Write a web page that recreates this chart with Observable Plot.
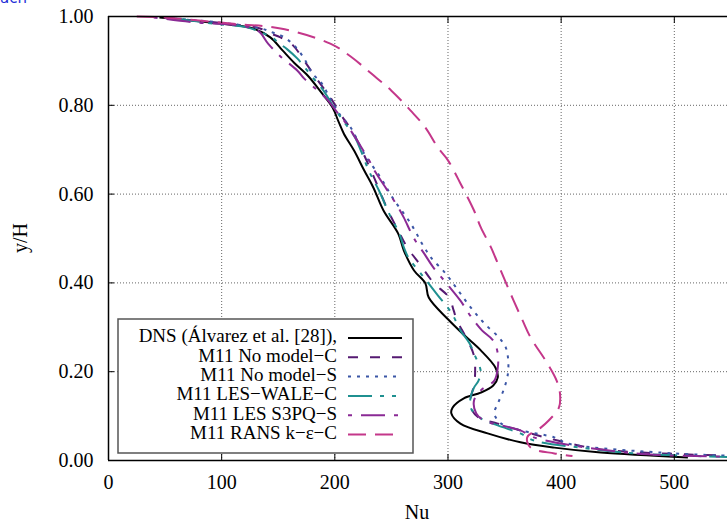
<!DOCTYPE html>
<html>
<head>
<meta charset="utf-8">
<script src="https://cdn.jsdelivr.net/npm/d3@7"></script>
<script src="https://cdn.jsdelivr.net/npm/@observablehq/plot@0.6"></script>
<style>
  html, body { margin: 0; padding: 0; background: #fff; }
  #wrap { position: relative; width: 727px; height: 524px; overflow: hidden; }
  #corner { position: absolute; left: 0; top: -11px; color: #2430d8; font: 15px "DejaVu Sans", sans-serif; }
</style>
</head>
<body>
<div id="wrap"><div id="corner">ach</div></div>
<script>
// ---------- data (Nu, y/H) ----------
const seriesNames = [
  "DNS (Álvarez et al. [28]),",
  "M11 No model\u2212C",
  "M11 No model\u2212S",
  "M11 LES\u2212WALE\u2212C",
  "M11 LES S3PQ\u2212S",
  "M11 RANS k\u2212\u03b5\u2212C"
];
const xTicks = [0, 100, 200, 300, 400, 500];
const yTicks = [0, 0.2, 0.4, 0.6, 0.8, 1.0];

const dns = [[45,0.998],[99,0.984],[128,0.973],[143,0.953],[154,0.923],[164,0.896],[176,0.867],[188,0.829],[198,0.795],[203,0.765],[208,0.736],[217,0.698],[226,0.653],[234,0.615],[243,0.563],[256,0.511],[261,0.473],[270,0.428],[280,0.399],[283,0.367],[300,0.318],[314,0.283],[329,0.248],[342,0.209],[344,0.187],[340,0.169],[329,0.153],[314,0.14],[304,0.119],[303,0.106],[311,0.083],[335,0.061],[364,0.041],[394,0.029],[435,0.018],[512,0.007]];

const noModelC = [[50,0.997],[100,0.985],[134,0.973],[143,0.962],[152,0.953],[163,0.935],[173,0.9],[185,0.856],[196,0.818],[205,0.78],[216,0.739],[232,0.653],[247,0.563],[256,0.518],[264,0.48],[276,0.439],[287,0.401],[301,0.367],[305,0.338],[308,0.315],[316,0.277],[323,0.236],[324,0.2],[323,0.17],[320,0.14],[320,0.119],[327,0.097],[344,0.083],[373,0.061],[397,0.045],[435,0.025],[509,0.014],[547,0.011]];

const noModelS = [[50,0.997],[100,0.986],[135,0.973],[145,0.964],[154,0.955],[164,0.935],[173,0.905],[180,0.872],[188,0.851],[197,0.81],[205,0.777],[214,0.75],[226,0.691],[241,0.635],[251,0.592],[267,0.534],[279,0.48],[285,0.457],[298,0.421],[309,0.383],[320,0.345],[332,0.309],[345,0.277],[351,0.255],[353,0.232],[353,0.196],[349,0.158],[344,0.128],[341,0.106],[347,0.083],[364,0.068],[394,0.052],[406,0.038],[500,0.016],[547,0.011]];

const lesWale = [[60,0.995],[93,0.984],[123,0.975],[137,0.962],[146,0.95],[150,0.941],[158,0.926],[167,0.905],[179,0.867],[190,0.833],[198,0.8],[206,0.77],[218,0.727],[223,0.698],[230,0.653],[239,0.608],[248,0.556],[257,0.511],[261,0.48],[265,0.457],[276,0.421],[291,0.372],[303,0.333],[311,0.293],[319,0.264],[323,0.241],[329,0.2],[327,0.18],[323,0.164],[320,0.142],[320,0.119],[329,0.095],[344,0.079],[364,0.061],[376,0.045],[420,0.028],[465,0.016],[547,0.008]];

const lesS3pq = [[40,0.998],[79,0.986],[108,0.982],[132,0.968],[141,0.939],[152,0.91],[167,0.878],[173,0.86],[185,0.833],[194,0.811],[203,0.781],[208,0.766],[229,0.682],[236,0.649],[246,0.61],[256,0.57],[261,0.547],[270,0.5],[279,0.466],[287,0.435],[300,0.395],[311,0.36],[320,0.325],[330,0.293],[340,0.27],[344,0.241],[344,0.209],[341,0.18],[329,0.158],[323,0.135],[325,0.106],[332,0.09],[364,0.068],[376,0.052],[465,0.016],[547,0.009]];

const ransKe = [[25,1.0],[48,0.998],[108,0.984],[152,0.973],[196,0.939],[214,0.91],[232,0.872],[250,0.833],[267,0.788],[280,0.75],[291,0.705],[300,0.676],[311,0.624],[323,0.563],[329,0.525],[338,0.48],[344,0.444],[358,0.36],[366,0.315],[373,0.277],[388,0.218],[396,0.18],[399,0.15],[398,0.119],[389,0.09],[382,0.074],[370,0.052],[373,0.029],[394,0.016],[410,0.01]];

// ---------- styles ----------
const styles = [
  {data: dns,      stroke: "#000000", dash: null,              width: 2},
  {data: noModelC, stroke: "#551a72", dash: "10,12",           width: 2},
  {data: noModelS, stroke: "#3b56a6", dash: "3,6",             width: 2},
  {data: lesWale,  stroke: "#1f9090", dash: "24,8,4,8,4,8",    width: 2},
  {data: lesS3pq,  stroke: "#8a2a95", dash: "4,9,24,9",        width: 2},
  {data: ransKe,   stroke: "#c4378a", dash: "18,9",            width: 2}
];

const font = "'Liberation Serif', 'Times New Roman', serif";

const lineMarks = styles.map((s, i) =>
  Plot.line(s.data.map(([nu, y]) => ({nu, y})), {
    x: "nu", y: "y",
    stroke: s.stroke, strokeWidth: s.width,
    strokeDasharray: s.dash,
    curve: "catmull-rom",
    strokeLinecap: "butt"
  })
);

const chart = Plot.plot({
  width: 727,
  height: 524,
  marginLeft: 108,
  marginRight: 0,
  marginTop: 16,
  marginBottom: 64,
  style: {fontFamily: font, fontSize: "20px", background: "white", color: "black"},
  x: {domain: [0, 547]},
  y: {domain: [0, 1]},
  marks: [
    Plot.gridX(xTicks.filter(d => d > 0), {stroke: "#666", strokeOpacity: 1, strokeDasharray: "1,2", strokeWidth: 1}),
    Plot.gridY(yTicks.filter(d => d > 0 && d < 1), {stroke: "#666", strokeOpacity: 1, strokeDasharray: "1,2", strokeWidth: 1}),
    ...lineMarks,
    Plot.axisX(xTicks, {anchor: "bottom", tickSize: -6, tickPadding: 20, tickFormat: d3.format("d"), label: null, fontSize: 20}),
    Plot.axisX(xTicks, {anchor: "top", tickSize: -6, tickFormat: () => "", label: null}),
    Plot.axisY(yTicks, {anchor: "left", tickSize: -6, tickPadding: 21, tickFormat: d3.format(".2f"), label: null, fontSize: 20}),
    Plot.ruleY([0, 1], {stroke: "black", strokeWidth: 1.5}),
    Plot.ruleX([0], {stroke: "black", strokeWidth: 1.5})
  ]
});

document.getElementById("wrap").appendChild(chart);

// ---------- axis labels & legend ----------
const svg = d3.select(chart);
svg.append("text")
  .attr("x", 417).attr("y", 514)
  .attr("text-anchor", "middle").attr("dominant-baseline", "middle")
  .style("font-family", font).style("font-size", "20px")
  .text("Nu");
svg.append("text")
  .attr("transform", "translate(22,238) rotate(-90)")
  .attr("text-anchor", "middle").attr("dominant-baseline", "middle")
  .style("font-family", font).style("font-size", "20px")
  .text("y/H");

const lg = svg.append("g");
lg.append("rect")
  .attr("x", 118).attr("y", 319).attr("width", 295).attr("height", 134)
  .attr("fill", "white").attr("stroke", "#555").attr("stroke-width", 1.5);
seriesNames.forEach((name, i) => {
  const cy = 338 + i * 19.3;
  lg.append("text")
    .attr("x", 337).attr("y", cy)
    .attr("text-anchor", "end").attr("dominant-baseline", "middle")
    .style("font-family", font).style("font-size", "19px")
    .text(name);
  lg.append("line")
    .attr("x1", 348).attr("x2", 402).attr("y1", cy).attr("y2", cy)
    .attr("stroke", styles[i].stroke).attr("stroke-width", styles[i].width)
    .attr("stroke-dasharray", styles[i].dash);
});
</script>
</body>
</html>
